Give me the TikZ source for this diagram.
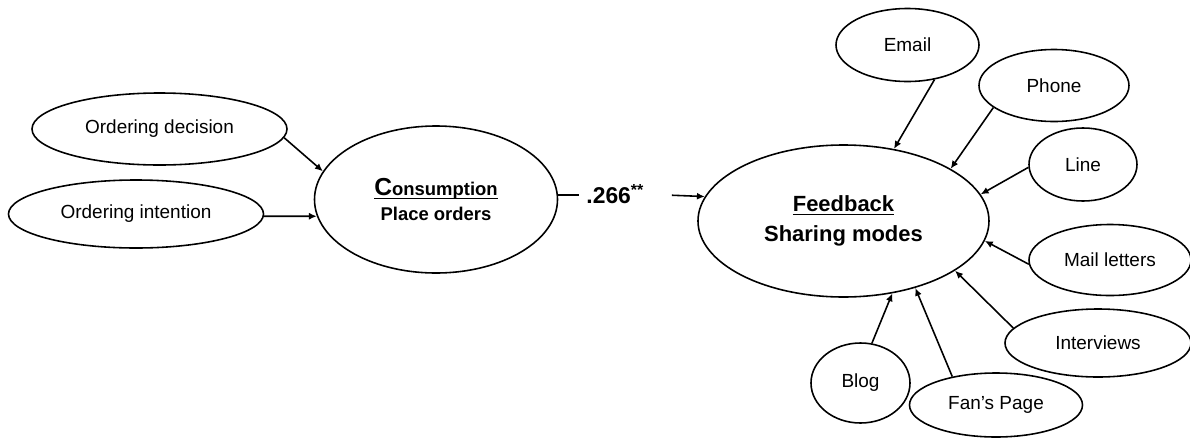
\documentclass[tikz,border=0pt]{standalone}
\usepackage{fontspec}
\setmainfont{Liberation Sans}
\usetikzlibrary{arrows.meta,positioning,shapes.geometric}
\newcommand{\ulword}[1]{\underline{\raisebox{0pt}[\height][0pt]{#1}}}
\tikzset{
  mode/.style={draw, ellipse, inner sep=0pt, line width=0.9pt, align=center, font=\fontsize{10.8}{12}\selectfont},
  construct/.style={draw, ellipse, inner sep=0pt, line width=0.9pt, align=center, font=\bfseries\fontsize{10.5}{14.2}\selectfont},
  coef/.style={inner sep=0pt, text height=9pt, text depth=0pt, font=\bfseries\fontsize{13}{14}\selectfont},
  link/.style={line width=0.9pt},
  arrow/.style={-{Latex[length=4.5pt,width=4pt]}, line width=0.9pt}
}

\begin{document}
\begin{tikzpicture}[x=1cm,y=1cm]
  \useasboundingbox (0,0) rectangle (23.8,-8.74);
  % consumption side
  \node[mode, minimum width=5.1cm, minimum height=1.44cm] (dec) at (3.19,-2.58) {Ordering decision};
  \node[mode, minimum width=5.1cm, minimum height=1.36cm] (intent) at (2.72,-4.28) {Ordering intention};
  \node[construct, minimum width=4.86cm, minimum height=2.94cm] (cons) at (8.72,-3.99) {\ulword{{\fontsize{14}{14}\selectfont C}onsumption}\\Place orders};
  % feedback side
  \node[construct, font=\bfseries\fontsize{12.5}{17}\selectfont, minimum width=5.82cm, minimum height=3.04cm] (fb) at (16.87,-4.42) {\ulword{Feedback}\\Sharing modes};
  \node[mode, minimum width=2.86cm, minimum height=1.46cm] (email) at (18.15,-0.90) {Email};
  \node[mode, minimum width=3.00cm, minimum height=1.44cm] (phone) at (21.08,-1.71) {Phone};
  \node[mode, minimum width=2.16cm, minimum height=1.46cm] (line) at (21.66,-3.29) {Line};
  \node[mode, minimum width=3.24cm, minimum height=1.42cm] (mail) at (22.20,-5.20) {Mail letters};
  \node[mode, minimum width=3.72cm, minimum height=1.36cm] (interviews) at (21.96,-6.86) {Interviews};
  \node[mode, minimum width=1.98cm, minimum height=1.60cm] (blog) at (17.21,-7.66) {Blog};
  \node[mode, minimum width=3.46cm, minimum height=1.28cm] (fan) at (19.92,-8.10) {Fan’s Page};
  % path coefficient
  \node[coef, right=0.42cm of cons.2] (num) {\hspace*{4pt}.266\textsuperscript{**}\hspace*{15.5pt}};
  \draw[arrow] (dec.-4) -- (cons.166);
  \draw[arrow] (intent.-1) -- (cons.188);
  \draw[link] (cons.2) -- (num.west);
  \draw[arrow] (num.east) -- (fb.170);
  \foreach \src/\a/\b in {email/-52/55, phone/200/26, line/183/11, mail/183/-8, interviews/170/-24, fan/147/-43, blog/74/-56}
    \draw[arrow] (\src.\a) -- (fb.\b);
\end{tikzpicture}
\end{document}
